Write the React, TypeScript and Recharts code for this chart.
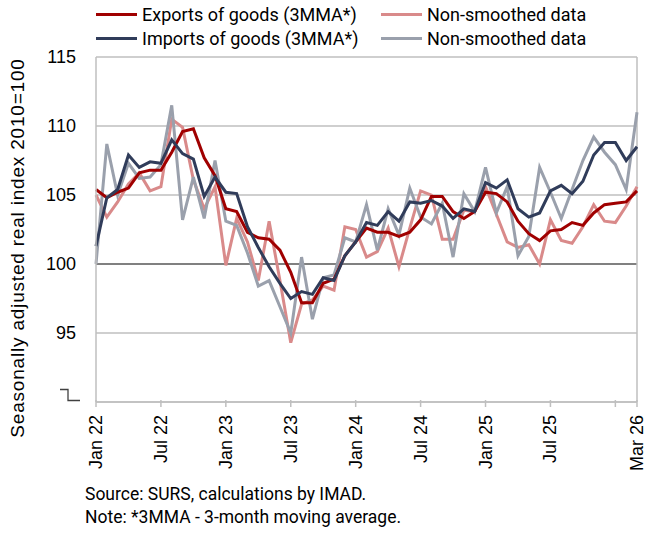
import { CartesianGrid, Line, LineChart, ReferenceLine, XAxis, YAxis } from "recharts";

const months = [
  "Jan 22", "Feb 22", "Mar 22", "Apr 22", "May 22", "Jun 22", "Jul 22", "Aug 22", "Sep 22", "Oct 22", "Nov 22", "Dec 22",
  "Jan 23", "Feb 23", "Mar 23", "Apr 23", "May 23", "Jun 23", "Jul 23", "Aug 23", "Sep 23", "Oct 23", "Nov 23", "Dec 23",
  "Jan 24", "Feb 24", "Mar 24", "Apr 24", "May 24", "Jun 24", "Jul 24", "Aug 24", "Sep 24", "Oct 24", "Nov 24", "Dec 24",
  "Jan 25", "Feb 25", "Mar 25", "Apr 25", "May 25", "Jun 25", "Jul 25", "Aug 25", "Sep 25", "Oct 25", "Nov 25", "Dec 25",
  "Jan 26", "Feb 26", "Mar 26",
];

const exports3mma = [
  105.4, 104.8, 105.2, 105.5, 106.6, 106.8, 106.8, 108.1, 109.6, 109.8, 107.7, 106.4,
  104.0, 103.8, 102.3, 101.9, 101.8, 101.0, 99.4, 97.2, 97.2, 98.6, 98.9, 100.6,
  101.6, 102.6, 102.3, 102.3, 102.0, 102.3, 103.2, 104.9, 104.9, 103.8, 103.3, 103.8,
  105.2, 105.1, 104.5, 103.1, 102.2, 101.7, 102.4, 102.5, 103.0, 102.8, 103.7, 104.3,
  104.4, 104.5, 105.3,
];

const exportsRaw = [
  105.0, 103.4, 104.5, 105.8, 106.6, 105.3, 105.6, 110.5, 109.9, 106.1, 104.0, 105.6,
  99.9, 103.3, 101.6, 98.8, 103.1, 98.8, 94.3, 97.1, 97.4, 98.4, 98.1, 102.7,
  102.5, 100.5, 100.9, 102.6, 99.8, 102.6, 105.3, 105.0, 101.8, 101.8, 103.9, 103.8,
  105.6, 103.6, 101.6, 101.2, 101.4, 100.0, 103.2, 101.7, 101.5, 102.7, 104.3, 103.1,
  103.0, 104.2, 105.6,
];

const imports3mma = [
  101.3, 104.8, 105.4, 107.9, 107.0, 107.4, 107.3, 109.0, 108.0, 107.6, 104.9, 106.3,
  105.2, 105.1, 102.7, 101.2, 99.8, 98.6, 97.5, 98.0, 97.8, 99.0, 98.8, 100.6,
  101.6, 103.0, 102.8, 103.8, 103.1, 104.5, 104.4, 104.6, 104.2, 103.3, 104.0, 103.8,
  105.9, 105.5, 106.1, 104.0, 103.4, 103.7, 105.3, 105.7, 105.1, 106.0, 107.9, 108.8,
  108.8, 107.5, 108.5,
];

const importsRaw = [
  100.0, 108.7, 105.0, 107.3, 106.2, 106.3, 107.2, 111.5, 103.2, 106.3, 103.3, 107.5,
  103.1, 102.8, 100.8, 98.4, 98.8, 96.9, 95.0, 100.5, 96.0, 99.0, 99.2, 101.9,
  101.6, 104.3, 101.0, 104.0, 102.1, 105.5, 103.4, 102.9, 104.4, 100.5, 105.1, 103.8,
  107.0, 103.7, 105.6, 100.6, 102.0, 107.0, 105.2, 103.3, 105.4, 107.5, 109.2, 108.1,
  107.2, 105.4, 111.0,
];

const xTicks = ["Jan 22", "Jul 22", "Jan 23", "Jul 23", "Jan 24", "Jul 24", "Jan 25", "Jul 25", "Jan 26", "Mar 26"];
const hiddenXLabels = ["Jan 26"];
const yTicks = [90, 95, 100, 105, 110, 115];

const legendItems = [
  { label: "Exports of goods (3MMA*)", color: "#a00000" },
  { label: "Non-smoothed data", color: "#d98a8a" },
  { label: "Imports of goods (3MMA*)", color: "#303c5a" },
  { label: "Non-smoothed data", color: "#9aa0ac" },
];

const data = months.map((m, i) => ({
  month: m,
  exp: exports3mma[i],
  expRaw: exportsRaw[i],
  imp: imports3mma[i],
  impRaw: importsRaw[i],
}));

const AXIS_FONT = "'Liberation Sans', Arial, sans-serif";
const TEXT_FONT = "Roboto, 'Noto Sans', sans-serif";
const GRID = "#bfbfbf";

function XTick({ x, y, payload }: any) {
  const show = !hiddenXLabels.includes(payload.value);
  return (
    <g transform={`translate(${x},${y})`}>
      <line x1={0} x2={0} y1={-2} y2={5} stroke={GRID} strokeWidth={1.5} />
      {show && (
        <text
          transform="rotate(-90)"
          x={-13}
          y={0}
          textAnchor="end"
          dominantBaseline="central"
          fontSize={18}
          fontFamily={AXIS_FONT}
          fill="#000"
        >
          {payload.value}
        </text>
      )}
    </g>
  );
}

function YTick({ x, y, payload }: any) {
  if (payload.value === 90) {
    // axis break mark instead of the 90 label
    return (
      <g transform={`translate(${x},${y})`}>
        <polyline points="-36,-12.5 -28,-12.5 -28,-1.5 -16,-1.5" fill="none" stroke="#404040" strokeWidth={1.3} />
      </g>
    );
  }
  return (
    <text
      x={x - 20}
      y={y}
      textAnchor="end"
      dominantBaseline="central"
      fontSize={18}
      fontFamily={AXIS_FONT}
      fill="#000"
    >
      {payload.value}
    </text>
  );
}

function LegendBlock() {
  return (
    <div style={{ position: "absolute", left: 96, top: 2, fontFamily: TEXT_FONT, fontSize: 18, color: "#000" }}>
      {[0, 1].map((row) => (
        <div key={row} style={{ display: "flex", height: 24, alignItems: "center" }}>
          {legendItems.slice(row * 2, row * 2 + 2).map((it, j) => (
            <div key={j} style={{ display: "flex", alignItems: "center", width: j === 0 ? 285 : 220 }}>
              <span style={{ display: "inline-block", width: 41, height: 3, background: it.color, marginRight: 5 }} />
              <span style={{ whiteSpace: "nowrap" }}>{it.label}</span>
            </div>
          ))}
        </div>
      ))}
    </div>
  );
}

export default function App() {
  return (
    <div style={{ position: "relative", width: 650, height: 533, background: "#fff" }}>
      <style>{`body{margin:0}`}</style>
      <LegendBlock />
      <div
        style={{
          position: "absolute",
          left: 18,
          top: 248,
          transform: "translate(-50%,-50%) rotate(-90deg)",
          whiteSpace: "nowrap",
          fontFamily: AXIS_FONT,
          fontSize: 19,
          letterSpacing: 0.8,
          color: "#000",
        }}
      >
        Seasonally adjusted real index 2010=100
      </div>
      <LineChart width={650} height={533} data={data} margin={{ top: 57, right: 13, bottom: 71, left: 0 }}>
        <CartesianGrid vertical={false} stroke={GRID} strokeWidth={1.5} />
        <XAxis
          dataKey="month"
          ticks={xTicks}
          interval={0}
          tick={<XTick />}
          tickLine={false}
          tickSize={0}
          tickMargin={0}
          height={60}
          axisLine={{ stroke: GRID, strokeWidth: 1.5 }}
        />
        <YAxis
          domain={[90, 115]}
          ticks={yTicks}
          interval={0}
          tick={<YTick />}
          tickLine={false}
          tickSize={0}
          tickMargin={0}
          width={96}
          axisLine={{ stroke: GRID, strokeWidth: 1.5 }}
        />
        <ReferenceLine y={100} stroke="#808080" strokeWidth={2} />
        <ReferenceLine x="Mar 26" stroke={GRID} strokeWidth={1.5} />
        <Line dataKey="expRaw" stroke="#d98a8a" strokeWidth={3} dot={false} isAnimationActive={false} />
        <Line dataKey="impRaw" stroke="#9aa0ac" strokeWidth={3} dot={false} isAnimationActive={false} />
        <Line dataKey="exp" stroke="#a00000" strokeWidth={3} dot={false} isAnimationActive={false} />
        <Line dataKey="imp" stroke="#303c5a" strokeWidth={3} dot={false} isAnimationActive={false} />
      </LineChart>
      <div style={{ position: "absolute", left: 85, top: 483, fontFamily: TEXT_FONT, fontSize: 17.5, lineHeight: "23px", color: "#000" }}>
        <div>Source: SURS, calculations by IMAD.</div>
        <div>Note: *3MMA - 3-month moving average.</div>
      </div>
    </div>
  );
}
